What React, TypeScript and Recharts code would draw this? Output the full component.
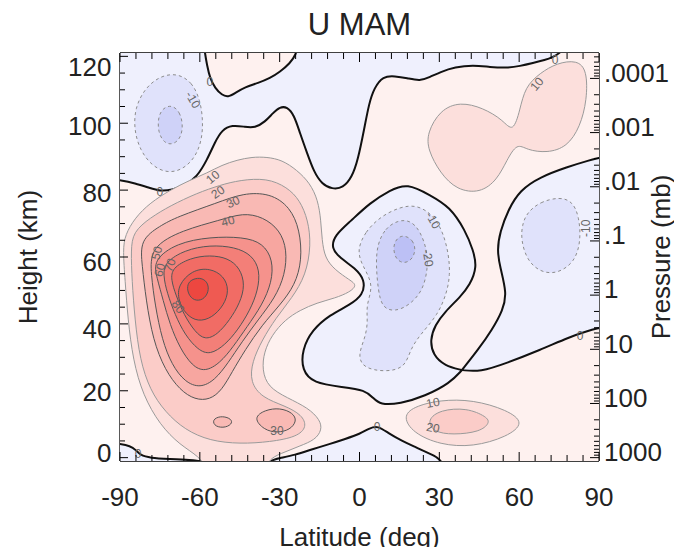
import React from 'react';
import { ScatterChart, Scatter, XAxis, YAxis } from 'recharts';

type P = [number, number];

// ---------------- axis ticks / labels ----------------
const latTicks = [-90, -84, -78, -72, -66, -60, -54, -48, -42, -36, -30, -24, -18, -12, -6, 0, 6, 12, 18, 24, 30, 36, 42, 48, 54, 60, 66, 72, 78, 84, 90];
const heightMinorTicks = [0, 5, 10, 15, 20, 25, 30, 35, 40, 45, 50, 55, 60, 65, 70, 75, 80, 85, 90, 95, 100, 105, 110, 115, 120];
const heightLabels = ['0', '20', '40', '60', '80', '100', '120'];
const heightLabelAt = [1.4, 19.7, 38.5, 58.6, 79.1, 99.2, 116.8];
const pressureLabels = ['1000', '100', '10', '1', '.1', '.01', '.001', '.0001'];
const pressureDecadeAt = [0, 16.2, 32.4, 48.6, 64.8, 81.0, 97.2, 113.4];
const DECADE = 16.2;

// ---------------- contour regions (lat, height) ----------------
const bgRect: P[] = [[-100, -8], [100, -8], [100, 130], [-100, 130]];

const zeroTopBlue: P[] = [
  [78, 130], [77.5, 126], [76.5, 122.5], [75.4, 121.0], [72.7, 119.8], [69.7, 118.9], [65.2, 118.0], [60.3, 117.1], [55.4, 116.5],
  [49.0, 116.8], [42.7, 117.4], [35.9, 116.8], [30.3, 115.3], [26.5, 113.8], [22.7, 112.6], [17.9, 113.5], [13.3, 114.1],
  [8.8, 114.1], [5.5, 110.5], [3.6, 106.0], [1.7, 98.0], [-0.6, 89.0], [-2.8, 83.9], [-6.2, 80.6], [-10.3, 80.3], [-14.1, 81.8],
  [-17.1, 85.4], [-19.7, 91.1], [-22.4, 97.1], [-24.6, 102.5], [-27.2, 104.9], [-29.9, 104.9], [-32.5, 103.1], [-35.5, 100.4],
  [-39.3, 98.6], [-43.0, 98.9], [-47.9, 99.5], [-51.7, 98.0], [-54.3, 94.4], [-57.3, 89.0], [-61.1, 83.9], [-65.6, 81.5],
  [-70.5, 80.0], [-75.0, 79.7], [-78.7, 80.6], [-84.4, 82.1], [-90, 83.0], [-93, 83.2], [-97, 83.5], [-100, 86], [-100, 100],
  [-100, 115], [-100, 130], [-80, 132], [-50, 132], [-20, 132], [10, 132], [40, 132], [70, 132],
];
const zeroBump: P[] = [
  [-58.5, 132], [-58.5, 128], [-58.4, 123.7], [-58.1, 121.0], [-57.3, 117.4], [-56.2, 113.5], [-54.3, 110.5], [-51.7, 108.4],
  [-49.4, 107.8], [-46.8, 109.0], [-43.0, 110.8], [-38.1, 112.0], [-33.6, 113.5], [-29.9, 115.3], [-26.1, 118.0], [-23.9, 120.4],
  [-23.1, 123.7], [-23, 128], [-23, 132], [-40, 133],
];
const zeroMid: P[] = [
  [17.9, 82.1], [26.5, 78.5], [34.0, 75.0], [39.7, 68.0], [42.7, 62.1], [44.2, 57.0], [41.5, 51.6], [37.8, 48.0], [32.1, 43.6],
  [28.4, 39.7], [26.5, 35.2], [27.6, 30.7], [32.1, 27.4], [38.5, 26.2], [38.5, 26.2], [38.5, 26.2], [34.0, 22.3], [24.6, 18.4],
  [15.2, 16.1], [7.7, 15.8], [5.1, 17.9], [2.1, 20.2], [-6.2, 21.1], [-17.5, 22.3], [-21.6, 26.2], [-21.6, 32.2], [-17.8, 38.2],
  [-11.1, 42.7], [-3.6, 45.7], [1.3, 48.6], [2.1, 53.1], [-1.7, 56.7], [-7.3, 59.7], [-10.7, 62.7], [-9.2, 66.6], [-3.6, 70.5],
  [3.9, 76.2], [11.5, 80.0],
];
const zeroRight: P[] = [
  [93, 90.2], [90, 89.6], [86.6, 89.0], [78.0, 86.9], [67.8, 83.9], [60.3, 80.0], [55.8, 74.0], [52.8, 67.5], [51.7, 62.1],
  [52.8, 57.0], [55.4, 49.2], [53.9, 44.1], [49.8, 38.2], [44.5, 32.2], [38.5, 26.2], [38.5, 26.2], [38.5, 26.2], [45.3, 25.6],
  [55.4, 28.3], [67.8, 32.2], [79.1, 36.1], [84.7, 37.6], [90, 38.8], [93, 39.2], [97, 39.6], [100, 42], [100, 65], [100, 88], [97, 90.3],
];
const zeroBottomLeft: P[] = [
  [-100, -6], [-100, 0], [-100, 5], [-95, 4.6], [-90, 4.1], [-86.2, 3.5], [-84.0, 2.3], [-82.5, 0.8], [-78.7, -0.1], [-71.2, -0.4],
  [-63.7, -0.7], [-58.1, -1.2], [-56, -3], [-56, -6], [-70, -7], [-85, -7],
];
const zeroBottom: P[] = [
  [-36.6, -6], [-34.8, -1.0], [-29.9, -0.1], [-24.2, 0.8], [-18.6, 2.3], [-11.1, 4.1], [-5.4, 5.6], [0.2, 7.1], [3.9, 8.9],
  [6.9, 9.5], [10.7, 7.4], [15.2, 5.3], [20.9, 3.2], [26.5, 1.1], [31.0, -0.4], [32.9, -6], [20, -8], [0, -8], [-20, -8],
];

const neg10TopLeft: P[] = [
  [-68.6, 115.0], [-62.9, 112.3], [-59.9, 107.0], [-58.8, 101.0], [-59.2, 95.0], [-61.8, 89.6], [-66.7, 86.0], [-72.3, 85.1],
  [-78.0, 87.2], [-82.5, 92.0], [-84.7, 98.0], [-84.4, 104.6], [-80.6, 110.5], [-75.0, 114.1],
];
const neg20TopLeft: P[] = [
  [-70.5, 105.5], [-67.5, 103.4], [-66.3, 99.5], [-67.1, 95.6], [-70.1, 93.5], [-73.5, 94.1], [-75.7, 97.4], [-75.7, 101.9], [-73.8, 104.6],
];
const neg10Mid: P[] = [
  [-0.9, 62.1], [2.1, 67.5], [7.7, 72.0], [15.2, 75.0], [21.6, 75.6], [27.6, 72.6], [31.4, 67.5], [33.6, 60.6], [34.0, 54.6],
  [32.9, 49.5], [29.5, 42.7], [22.7, 36.7], [19.0, 32.2], [17.1, 26.8], [9.6, 25.6], [1.3, 26.8], [-0.6, 30.7], [2.1, 35.8],
  [3.2, 40.6], [2.4, 45.7], [5.5, 51.6], [0.9, 57.6],
];
const neg20Mid: P[] = [
  [6.6, 63.6], [9.6, 68.6], [14.5, 71.0], [19.0, 71.0], [22.7, 68.0], [25.4, 62.1], [25.7, 56.7], [23.9, 50.1], [19.0, 45.7],
  [13.3, 43.6], [8.5, 44.8], [7.0, 50.1], [6.2, 57.6],
];
const neg30Mid: P[] = [
  [16.7, 66.6], [20.1, 65.1], [21.2, 62.1], [19.7, 59.1], [16.3, 57.9], [13.3, 59.7], [12.6, 63.3], [14.1, 65.7],
];
const neg10Right: P[] = [
  [62.9, 73.2], [67.8, 76.5], [75.4, 78.0], [80.2, 76.5], [82.5, 72.0], [83.2, 65.1], [81.0, 58.5], [74.2, 54.9], [67.8, 55.5],
  [62.9, 59.1], [60.7, 65.1], [61.1, 69.6],
];

const jet10: P[] = [
  [-58.1, -3], [-59.9, 0.2], [-67.5, 3.8], [-75.0, 9.8], [-81.4, 18.7], [-85.1, 29.2], [-87.0, 41.2], [-88.1, 53.1], [-88.9, 62.1],
  [-88.1, 66.6], [-84.4, 71.7], [-78.7, 76.2], [-71.2, 80.0], [-63.7, 83.0], [-57.3, 85.1], [-51.7, 87.5], [-46.0, 89.0],
  [-40.4, 89.9], [-34.8, 89.9], [-29.1, 89.0], [-23.5, 86.0], [-18.6, 82.1], [-15.6, 77.0], [-14.5, 71.0], [-14.1, 65.1],
  [-13.0, 59.7], [-9.2, 56.1], [-3.6, 53.1], [-0.9, 51.6], [-3.6, 49.5], [-9.2, 47.7], [-16.0, 46.3], [-22.4, 44.1], [-28.0, 41.2],
  [-32.9, 36.7], [-35.9, 31.6], [-36.6, 26.2], [-34.4, 21.1], [-27.2, 17.9], [-19.3, 14.9], [-14.8, 11.3], [-14.1, 8.3],
  [-16.7, 5.3], [-22.4, 3.5], [-28.0, 1.7], [-33.6, -0.1], [-35, -3], [-46, -5],
];
const jet20: P[] = [
  [-85.1, 67.5], [-78.7, 71.7], [-71.2, 75.3], [-61.1, 79.1], [-52.4, 81.5], [-44.9, 83.0], [-34.8, 83.6], [-27.2, 80.9],
  [-22.4, 77.0], [-19.3, 71.0], [-18.2, 63.6], [-20.1, 54.6], [-25.4, 47.7], [-31.4, 41.8], [-36.6, 35.2], [-40.4, 28.6],
  [-41.1, 22.6], [-36.6, 17.9], [-28.0, 15.5], [-21.6, 12.8], [-19.7, 9.2], [-23.5, 6.2], [-33.6, 4.7], [-44.9, 4.1],
  [-56.2, 5.0], [-65.6, 8.3], [-73.1, 13.7], [-78.7, 20.2], [-82.5, 29.2], [-84.4, 41.2], [-85.5, 53.1], [-85.9, 62.1],
];
const jet30: P[] = [
  [-82.5, 65.1], [-75.0, 69.3], [-68.6, 72.0], [-53.5, 76.2], [-43.8, 79.1], [-33.6, 79.1], [-26.1, 75.0], [-22.4, 68.1],
  [-21.6, 59.1], [-24.2, 51.6], [-29.9, 45.6], [-36.6, 39.7], [-43.0, 32.2], [-47.9, 25.6], [-51.7, 20.2], [-56.2, 17.3],
  [-61.8, 17.3], [-67.5, 20.2], [-73.1, 26.2], [-77.6, 35.2], [-80.2, 47.1], [-81.7, 57.6],
];
const jet40: P[] = [
  [-78.7, 63.0], [-66.3, 68.1], [-52.4, 71.0], [-43.8, 73.2], [-36.3, 72.0], [-29.9, 68.1], [-27.2, 62.1], [-28.0, 54.6],
  [-31.8, 47.7], [-38.1, 41.2], [-44.2, 34.6], [-49.4, 28.3], [-54.3, 23.2], [-59.9, 20.8], [-65.6, 22.6], [-70.5, 27.7],
  [-74.2, 35.2], [-76.8, 45.6], [-78.3, 54.6],
];
const jet50: P[] = [
  [-77.6, 59.1], [-68.6, 64.2], [-56.2, 66.0], [-43.8, 66.0], [-36.3, 64.2], [-32.5, 59.1], [-32.9, 52.5], [-36.6, 45.6],
  [-42.3, 39.1], [-47.5, 33.1], [-52.4, 28.3], [-58.1, 25.6], [-62.9, 27.4], [-67.5, 32.8], [-71.2, 39.7], [-73.8, 47.1], [-76.1, 53.7],
];
const jet60: P[] = [
  [-73.1, 58.5], [-65.6, 62.1], [-56.2, 63.6], [-46.8, 63.0], [-40.4, 60.6], [-37.4, 56.1], [-38.1, 50.1], [-41.1, 44.1],
  [-45.7, 38.2], [-50.5, 33.7], [-56.2, 30.7], [-60.7, 32.2], [-65.6, 36.7], [-69.3, 42.7], [-72.3, 49.2], [-73.8, 54.6],
];
const jet70: P[] = [
  [-70.5, 56.7], [-63.7, 59.7], [-56.2, 60.6], [-49.4, 59.7], [-44.9, 56.7], [-43.0, 51.6], [-44.9, 46.3], [-48.7, 41.2],
  [-53.5, 36.7], [-58.1, 35.2], [-61.8, 37.6], [-66.0, 42.7], [-69.0, 48.6], [-70.8, 53.1],
];
const jet80: P[] = [
  [-68.2, 51.6], [-62.9, 56.1], [-56.2, 56.7], [-50.9, 54.3], [-49.0, 50.1], [-50.9, 45.6], [-55.4, 41.8], [-60.7, 40.6],
  [-65.2, 42.7], [-68.2, 47.1],
];
const jet90: P[] = [
  [-63.7, 53.1], [-59.9, 54.0], [-56.9, 52.5], [-56.6, 49.5], [-58.8, 47.1], [-62.2, 46.9], [-64.4, 48.9], [-64.8, 51.3],
];
const blob30a: P[] = [[-55.4, 11.3], [-52.4, 12.5], [-48.7, 11.9], [-47.5, 10.4], [-50.2, 8.9], [-54.3, 9.2]];
const blob30b: P[] = [
  [-40.0, 11.9], [-35.5, 14.3], [-29.9, 14.9], [-25.0, 13.4], [-23.5, 11.0], [-26.1, 8.3], [-31.0, 7.4], [-35.9, 8.3],
];
const upperRight10: P[] = [
  [25.4, 97.1], [30.3, 104.0], [37.8, 106.4], [46.4, 104.6], [53.9, 101.0], [57.7, 97.1], [60.3, 104.0], [62.2, 110.8],
  [67.8, 115.0], [74.2, 118.0], [81.7, 118.9], [85.5, 115.9], [85.5, 107.0], [82.9, 98.9], [78.0, 92.9], [70.5, 91.1],
  [62.9, 92.0], [59.2, 94.1], [55.4, 89.0], [51.7, 83.0], [45.3, 79.1], [36.6, 80.0], [30.3, 85.1], [25.7, 92.0],
];
const lowerRight10: P[] = [
  [16.3, 12.2], [20.1, 15.2], [30.3, 17.3], [42.7, 17.3], [55.4, 14.3], [62.2, 10.4], [55.4, 6.2], [42.7, 3.2], [30.3, 3.8], [20.1, 7.4],
];
const lowerRight20: P[] = [
  [25.4, 11.3], [30.3, 14.3], [40.4, 14.9], [47.9, 12.2], [49.0, 10.4], [45.3, 7.7], [35.1, 6.8], [27.6, 7.7],
];

const contourLabels = [
  { lat: -75.0, h: 79.4, t: '0', a: 0 },
  { lat: -56.2, h: 112.3, t: '0', a: 0 },
  { lat: 73.5, h: 118.9, t: '0', a: 0 },
  { lat: -83.2, h: 1.1, t: '0', a: 0 },
  { lat: 6.6, h: 9.2, t: '0', a: 0 },
  { lat: 82.9, h: 36.4, t: '0', a: 0 },
  { lat: -62.6, h: 107.0, t: '-10', a: 60 },
  { lat: -55.1, h: 83.9, t: '10', a: -40 },
  { lat: -53.2, h: 79.4, t: '20', a: -35 },
  { lat: -47.5, h: 76.4, t: '30', a: -25 },
  { lat: -49.4, h: 70.7, t: '40', a: -15 },
  { lat: -76.1, h: 61.2, t: '50', a: -75 },
  { lat: -75.0, h: 56.1, t: '60', a: -75 },
  { lat: -71.2, h: 57.6, t: '70', a: -70 },
  { lat: -68.2, h: 45.1, t: '80', a: 55 },
  { lat: -31.0, h: 8.0, t: '30', a: 0 },
  { lat: 27.6, h: 71.0, t: '-10', a: 60 },
  { lat: 25.7, h: 59.7, t: '-20', a: 80 },
  { lat: 85.1, h: 68.6, t: '-10', a: -90 },
  { lat: 66.7, h: 111.7, t: '10', a: -50 },
  { lat: 27.6, h: 16.4, t: '10', a: -10 },
  { lat: 27.6, h: 8.9, t: '20', a: 10 },
];

// ---------------- styles ----------------
const PINK = ['#fef1ef', '#fcdfdc', '#fbccc8', '#f9b9b4', '#f7a6a0', '#f5928c', '#f37f78', '#f16c65', '#ef5a52', '#ed4740'];
const BLUE = ['#eff0fd', '#e0e2fb', '#cfd2f8', '#bcc0f5'];
const ZERO = '#111';
const POS_LIGHT = '#9a9a9a';
const POS_DARK = '#555';
const NEG = '#8c8c8c';
const FONT = '"Liberation Sans", Arial, Helvetica, sans-serif';
const TXT = '#222';
const BAR = '#1467ab';

type Layer = { id: string; pts: P[]; fill: string; stroke: string; sw: number; dash?: string; joint?: string };

const layers: Layer[] = [
  { id: 'bg', pts: bgRect, fill: PINK[0], stroke: 'none', sw: 0, joint: 'linearClosed' },
  { id: 'z-top', pts: zeroTopBlue, fill: BLUE[0], stroke: ZERO, sw: 2 },
  { id: 'z-bump', pts: zeroBump, fill: PINK[0], stroke: ZERO, sw: 2 },
  { id: 'z-mid', pts: zeroMid, fill: BLUE[0], stroke: ZERO, sw: 2 },
  { id: 'z-right', pts: zeroRight, fill: BLUE[0], stroke: ZERO, sw: 2 },
  { id: 'z-bl', pts: zeroBottomLeft, fill: BLUE[0], stroke: ZERO, sw: 2 },
  { id: 'z-bot', pts: zeroBottom, fill: BLUE[0], stroke: ZERO, sw: 2 },
  { id: 'n10-tl', pts: neg10TopLeft, fill: BLUE[1], stroke: NEG, sw: 1, dash: '3 3' },
  { id: 'n20-tl', pts: neg20TopLeft, fill: BLUE[2], stroke: NEG, sw: 1, dash: '3 3' },
  { id: 'n10-m', pts: neg10Mid, fill: BLUE[1], stroke: NEG, sw: 1, dash: '3 3' },
  { id: 'n20-m', pts: neg20Mid, fill: BLUE[2], stroke: NEG, sw: 1, dash: '3 3' },
  { id: 'n30-m', pts: neg30Mid, fill: BLUE[3], stroke: NEG, sw: 1, dash: '3 3' },
  { id: 'n10-r', pts: neg10Right, fill: BLUE[1], stroke: NEG, sw: 1, dash: '3 3' },
  { id: 'p10-jet', pts: jet10, fill: PINK[1], stroke: POS_LIGHT, sw: 1 },
  { id: 'p10-ur', pts: upperRight10, fill: PINK[1], stroke: POS_LIGHT, sw: 1 },
  { id: 'p10-lr', pts: lowerRight10, fill: PINK[1], stroke: POS_LIGHT, sw: 1 },
  { id: 'p20-jet', pts: jet20, fill: PINK[2], stroke: POS_LIGHT, sw: 1 },
  { id: 'p20-lr', pts: lowerRight20, fill: PINK[2], stroke: POS_LIGHT, sw: 1 },
  { id: 'p30-jet', pts: jet30, fill: PINK[3], stroke: POS_DARK, sw: 1 },
  { id: 'p30-a', pts: blob30a, fill: PINK[3], stroke: POS_DARK, sw: 1 },
  { id: 'p30-b', pts: blob30b, fill: PINK[3], stroke: POS_DARK, sw: 1 },
  { id: 'p40', pts: jet40, fill: PINK[4], stroke: POS_DARK, sw: 1 },
  { id: 'p50', pts: jet50, fill: PINK[5], stroke: POS_DARK, sw: 1 },
  { id: 'p60', pts: jet60, fill: PINK[6], stroke: POS_DARK, sw: 1 },
  { id: 'p70', pts: jet70, fill: PINK[7], stroke: POS_DARK, sw: 1 },
  { id: 'p80', pts: jet80, fill: PINK[8], stroke: POS_DARK, sw: 1 },
  { id: 'p90', pts: jet90, fill: PINK[9], stroke: POS_DARK, sw: 1 },
];

const toPts = (a: P[]) => a.map(([lat, h]) => ({ lat, h }));

const pressureMinorAt: number[] = [];
pressureDecadeAt.forEach((h0) => {
  for (let k = 2; k <= 9; k++) {
    const h = h0 + DECADE - Math.log10(k) * DECADE;
    if (h <= 121) pressureMinorAt.push(Math.round(h * 100) / 100);
  }
});
const rightTicks = [...pressureDecadeAt, ...pressureMinorAt].sort((a, b) => a - b);
const leftTicks = [...heightMinorTicks, ...heightLabelAt].sort((a, b) => a - b);

// ---------------- tick renderers ----------------
const BottomTick = (props: any) => {
  const { x, y, payload } = props;
  const v = payload.value;
  const major = v % 30 === 0;
  return (
    <g>
      <line x1={x} y1={y} x2={x} y2={y - (major ? 9 : 6)} stroke="#000" strokeWidth={1} />
      {major && (
        <text x={x} y={y + 45} textAnchor="middle" fontSize={26} fontFamily={FONT} fill={TXT}>
          {String(v)}
        </text>
      )}
    </g>
  );
};
const TopTick = (props: any) => {
  const { x, y, payload } = props;
  const major = payload.value % 30 === 0;
  return <line x1={x} y1={y} x2={x} y2={y + (major ? 9 : 6)} stroke="#000" strokeWidth={1} />;
};
const LeftTick = (props: any) => {
  const { x, y, payload } = props;
  const v = payload.value;
  const li = heightLabelAt.indexOf(v);
  if (li >= 0) {
    return (
      <text x={x - 8.5} y={y} dy="0.36em" textAnchor="end" fontSize={26} fontFamily={FONT} fill={TXT}>
        {heightLabels[li]}
      </text>
    );
  }
  const major = v % 20 === 0;
  return <line x1={x} y1={y} x2={x + (major ? 8 : 5)} y2={y} stroke="#000" strokeWidth={1} />;
};
const RightTick = (props: any) => {
  const { x, y, payload } = props;
  const v = payload.value;
  const di = pressureDecadeAt.indexOf(v);
  if (di >= 0) {
    return (
      <g>
        <line x1={x} y1={y} x2={x - 9} y2={y} stroke="#000" strokeWidth={1} />
        <text x={x + 5} y={y - 6} dy="0.36em" textAnchor="start" fontSize={26} fontFamily={FONT} fill={TXT}>
          {pressureLabels[di]}
        </text>
      </g>
    );
  }
  return <line x1={x} y1={y} x2={x - 5} y2={y} stroke="#000" strokeWidth={1} />;
};

// ---------------- titles ----------------
const mainTitle = (p: any) => {
  const vb = p && p.viewBox ? p.viewBox : { x: 120, y: 52, width: 479 };
  return (
    <g>
      <rect x={0} y={0} width={682} height={3} fill={BAR} />
      <text x={vb.x + vb.width / 2} y={vb.y - 17} textAnchor="middle" fontSize={31} fontFamily={FONT} fill={TXT}>
        U MAM
      </text>
    </g>
  );
};
const latTitle = (p: any) => {
  const vb = p && p.viewBox ? p.viewBox : { x: 120, y: 461, width: 479 };
  return (
    <text x={vb.x + vb.width / 2} y={vb.y + 85} textAnchor="middle" fontSize={26} fontFamily={FONT} fill={TXT}>
      Latitude (deg)
    </text>
  );
};
const heightTitle = (p: any) => {
  const vb = p && p.viewBox ? p.viewBox : { x: 0, y: 53, height: 408 };
  const cx = vb.x + 37;
  const cy = vb.y + vb.height / 2;
  return (
    <text x={cx} y={cy} transform={`rotate(-90 ${cx} ${cy})`} textAnchor="middle" fontSize={26} fontFamily={FONT} fill={TXT}>
      Height (km)
    </text>
  );
};
const pressureTitle = (p: any) => {
  const vb = p && p.viewBox ? p.viewBox : { x: 599, y: 53, height: 408 };
  const cx = vb.x + 71;
  const cy = vb.y + vb.height / 2;
  return (
    <text x={cx} y={cy} transform={`rotate(-90 ${cx} ${cy})`} textAnchor="middle" fontSize={26} fontFamily={FONT} fill={TXT}>
      Pressure (mb)
    </text>
  );
};

const emptyShape = () => <g />;
const LabelShape = (p: any) => {
  const { cx, cy, payload } = p;
  return (
    <text
      x={cx}
      y={cy}
      transform={`rotate(${payload.a} ${cx} ${cy})`}
      textAnchor="middle"
      dominantBaseline="central"
      fontSize={12}
      fontFamily={FONT}
      fill="#666"
    >
      {payload.t}
    </text>
  );
};

const axisLine = { stroke: '#000', strokeWidth: 1.3 };

export default function App() {
  return (
    <div style={{ position: 'relative', margin: -8, width: 682, height: 555 }}>
      <ScatterChart width={682} height={555} margin={{ top: 52, right: 0, bottom: 0, left: 0 }}>
        <XAxis
          xAxisId="b"
          dataKey="lat"
          type="number"
          orientation="bottom"
          domain={[-90, 90]}
          allowDataOverflow
          ticks={latTicks}
          interval={0}
          tickSize={0}
          tickMargin={0}
          tickLine={false}
          tick={BottomTick}
          height={94}
          axisLine={axisLine}
          label={latTitle}
        />
        <XAxis
          xAxisId="t"
          dataKey="lat"
          type="number"
          orientation="top"
          domain={[-90, 90]}
          allowDataOverflow
          ticks={latTicks}
          interval={0}
          tickSize={0}
          tickMargin={0}
          tickLine={false}
          tick={TopTick}
          height={1}
          axisLine={axisLine}
          label={mainTitle}
        />
        <YAxis
          yAxisId="l"
          dataKey="h"
          type="number"
          orientation="left"
          domain={[-1, 121]}
          allowDataOverflow
          ticks={leftTicks}
          interval={0}
          tickSize={0}
          tickMargin={0}
          tickLine={false}
          tick={LeftTick}
          width={120}
          axisLine={axisLine}
          label={heightTitle}
        />
        <YAxis
          yAxisId="r"
          dataKey="h"
          type="number"
          orientation="right"
          domain={[-1, 121]}
          allowDataOverflow
          ticks={rightTicks}
          interval={0}
          tickSize={0}
          tickMargin={0}
          tickLine={false}
          tick={RightTick}
          width={83}
          axisLine={axisLine}
          label={pressureTitle}
        />
        {layers.map((l, i) => (
          <Scatter
            key={l.id}
            name={l.id}
            xAxisId={i === 0 ? 't' : 'b'}
            yAxisId={i === 0 ? 'r' : 'l'}
            data={toPts(l.pts)}
            isAnimationActive={false}
            shape={emptyShape}
            lineType="joint"
            lineJointType={(l.joint || 'basisClosed') as any}
            line={{ fill: l.fill, stroke: l.stroke, strokeWidth: l.sw, strokeDasharray: l.dash }}
          />
        ))}
        <Scatter
          name="labels"
          xAxisId="b"
          yAxisId="l"
          data={contourLabels}
          isAnimationActive={false}
          shape={LabelShape}
        />
      </ScatterChart>
    </div>
  );
}
